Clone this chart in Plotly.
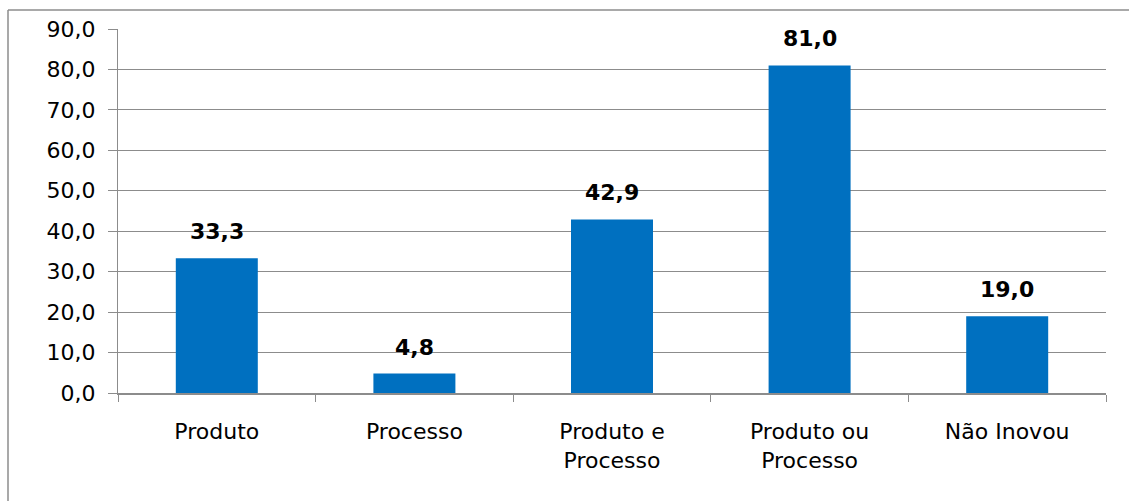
import plotly.graph_objects as go

categories = ["Produto", "Processo", "Produto e<br>Processo", "Produto ou<br>Processo", "Não Inovou"]
values = [33.3, 4.8, 42.9, 81.0, 19.0]
tick_values = [0, 10, 20, 30, 40, 50, 60, 70, 80, 90]

BAR_COLOR = "#0070C0"
GRID_COLOR = "#8c8c8c"
FONT = "DejaVu Sans"

fig = go.Figure()
fig.add_trace(go.Bar(
    x=categories,
    y=values,
    marker=dict(color=BAR_COLOR, line=dict(width=0)),
    width=0.415,
    hoverinfo="skip",
))

# value labels above each bar
for c, v in zip(categories, values):
    fig.add_annotation(
        x=c, y=v, text=f"<b>{v:.1f}".replace(".", ",") + "</b>",
        showarrow=False, yanchor="bottom", yshift=12,
        font=dict(family=FONT, size=22, color="black"),
    )

# chart border (left and top edges; the rest runs off the page)
left = (8 - 118) / 988
top = (393 - 10) / 364
fig.add_shape(type="line", xref="paper", yref="paper",
              x0=left, x1=left, y0=(393 - 520) / 364, y1=top,
              line=dict(color="#8c8c8c", width=1.5), layer="below")
fig.add_shape(type="line", xref="paper", yref="paper",
              x0=left, x1=(1160 - 118) / 988, y0=top, y1=top,
              line=dict(color="#8c8c8c", width=1.5), layer="below")

fig.update_layout(
    width=1129, height=501,
    margin=dict(l=118, r=23, t=29, b=108),
    paper_bgcolor="white", plot_bgcolor="white",
    separators=",.",
    showlegend=False,
    font=dict(family=FONT, size=22, color="black"),
    xaxis=dict(
        type="category",
        tickson="boundaries",
        ticks="outside", ticklen=7, tickcolor=GRID_COLOR, tickwidth=1,
        showline=True, linecolor=GRID_COLOR, linewidth=1.5,
        showgrid=False,
        tickfont=dict(family=FONT, size=22),
        ticklabelstandoff=18,
        fixedrange=True,
    ),
    yaxis=dict(
        range=[0, 90],
        tickvals=tick_values,
        tickformat=".1f",
        ticks="outside", ticklen=9, tickcolor=GRID_COLOR, tickwidth=1,
        showline=True, linecolor=GRID_COLOR, linewidth=1,
        showgrid=True, gridcolor=GRID_COLOR, gridwidth=1,
        zeroline=False,
        tickfont=dict(family=FONT, size=22),
        ticklabelstandoff=8,
        fixedrange=True,
    ),
)

fig.write_html("out.html")
